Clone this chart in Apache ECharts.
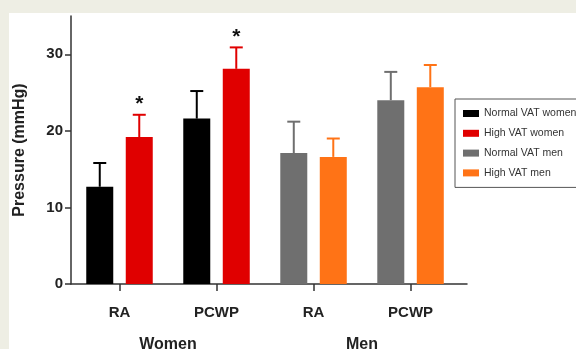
<!DOCTYPE html>
<html>
<head>
<meta charset="utf-8">
<script src="https://cdn.jsdelivr.net/npm/echarts@6/dist/echarts.min.js"></script>
<style>
	body{margin:0;background:#eeeee4;}
	#wrap{position:absolute;left:0;top:0;width:576px;height:349px;background:#eeeee4;overflow:hidden;}
	#chart{position:absolute;left:9px;top:13px;width:567px;height:336px;background:#fff;}
</style>
</head>
<body>
<div id="wrap"><div id="chart"></div></div>
<script>
// categories on the x axis, grouped by sex
var categories = ['RA', 'PCWP', 'RA', 'PCWP'];
var groups = ['Women', 'Men'];
var seriesNames = ['Normal VAT women', 'High VAT women', 'Normal VAT men', 'High VAT men'];
var seriesColors = ['#000000', '#e00000', '#6f6f6f', '#ff7316'];
var yTicks = [0, 10, 20, 30];

// mean values (mmHg)
var normalWomen = [12.7, 21.6];
var highWomen = [19.2, 28.1];
var normalMen = [17.1, 24.0];
var highMen = [16.6, 25.7];
// top of the error bars (mean + SD)
var normalWomenUpper = [15.8, 25.2];
var highWomenUpper = [22.1, 30.9];
var normalMenUpper = [21.2, 27.7];
var highMenUpper = [19.0, 28.6];
// significance marks above high VAT women
var highWomenMarks = ['*', '*'];

var barWidth = 27, barGapPx = 12.5;
var half = (barWidth + barGapPx) / 2;

var chart = echarts.init(document.getElementById('chart'));

var sets = [
	{vals: normalWomen, upper: normalWomenUpper, start: 0, stack: 'normal', side: -1},
	{vals: highWomen, upper: highWomenUpper, start: 0, stack: 'high', side: 1, marks: highWomenMarks},
	{vals: normalMen, upper: normalMenUpper, start: 2, stack: 'normal', side: -1},
	{vals: highMen, upper: highMenUpper, start: 2, stack: 'high', side: 1}
];

var series = [];
sets.forEach(function(s, k){
	series.push({
		name: seriesNames[k],
		type: 'bar',
		stack: s.stack,
		barWidth: barWidth,
		barGap: (barGapPx / barWidth * 100) + '%',
		itemStyle: {color: seriesColors[k]},
		data: s.vals.map(function(v, i){ return [s.start + i, v]; })
	});
});
sets.forEach(function(s, k){
	series.push({
		type: 'custom',
		z: 5,
		silent: true,
		data: s.vals.map(function(v, i){ return [s.start + i, v, s.upper[i], s.marks ? i : -1]; }),
		renderItem: function(params, api){
			var p0 = api.coord([api.value(0), api.value(1)]);
			var p1 = api.coord([api.value(0), api.value(2)]);
			var x = p0[0] + s.side * half;
			var style = {stroke: seriesColors[k], lineWidth: 2};
			var children = [
				{type: 'line', shape: {x1: x, y1: p0[1], x2: x, y2: p1[1]}, style: style},
				{type: 'line', shape: {x1: x - 6.5, y1: p1[1], x2: x + 6.5, y2: p1[1]}, style: style}
			];
			var mi = api.value(3);
			if (s.marks && mi >= 0 && s.marks[mi]) {
				children.push({type: 'text', x: x, y: p1[1] - 10.5, style: {
					text: s.marks[mi], fill: '#111', font: 'bold 21px "Liberation Sans", Arial',
					align: 'center', verticalAlign: 'middle'
				}});
			}
			return {type: 'group', children: children};
		}
	});
});

var option = {
	animation: false,
	textStyle: {fontFamily: '"Liberation Sans", Arial, sans-serif'},
	grid: {left: 62, right: 109, top: 3, bottom: 65, containLabel: false, outerBoundsMode: 'none'},
	legend: {
		data: seriesNames,
		orient: 'vertical',
		left: 446,
		top: 86,
		icon: 'rect',
		itemWidth: 16,
		itemHeight: 7,
		itemGap: 8.8,
		padding: [9, 30, 9, 8],
		borderColor: '#555',
		borderWidth: 1,
		textStyle: {fontSize: 10.5, color: '#333'}
	},
	xAxis: [{
		type: 'value',
		min: -0.5,
		max: 3.582,
		splitLine: {show: false},
		axisLine: {onZero: false, lineStyle: {color: '#333', width: 1.5}},
		axisTick: {customValues: [0, 1, 2, 3], length: 7, lineStyle: {color: '#333', width: 1.5}},
		axisLabel: {
			customValues: [0, 1, 2, 3],
			formatter: function(v){ return categories[Math.round(v)]; },
			margin: 21, fontSize: 15, fontWeight: 'bold', color: '#222'
		}
	}, {
		type: 'value',
		position: 'bottom',
		min: -0.5,
		max: 3.582,
		splitLine: {show: false},
		axisLine: {show: false, onZero: false},
		axisTick: {show: false},
		axisLabel: {
			customValues: [0.5, 2.5],
			formatter: function(v){ return groups[Math.round((v - 0.5) / 2)]; },
			margin: 53, fontSize: 16, fontWeight: 'bold', color: '#222'
		}
	}],
	yAxis: {
		type: 'value',
		min: 0,
		max: 35,
		interval: 10,
		name: 'Pressure (mmHg)',
		nameLocation: 'middle',
		nameGap: 43,
		nameTextStyle: {fontSize: 16, fontWeight: 'bold', color: '#222'},
		splitLine: {show: false},
		axisLine: {show: true, onZero: false, lineStyle: {color: '#333', width: 1.5}},
		axisTick: {show: true, customValues: yTicks, length: 6, lineStyle: {color: '#333', width: 1.5}},
		axisLabel: {customValues: yTicks, margin: 8, fontSize: 15, fontWeight: 'bold', color: '#222'}
	},
	series: series
};
chart.setOption(option);
</script>
</body>
</html>
